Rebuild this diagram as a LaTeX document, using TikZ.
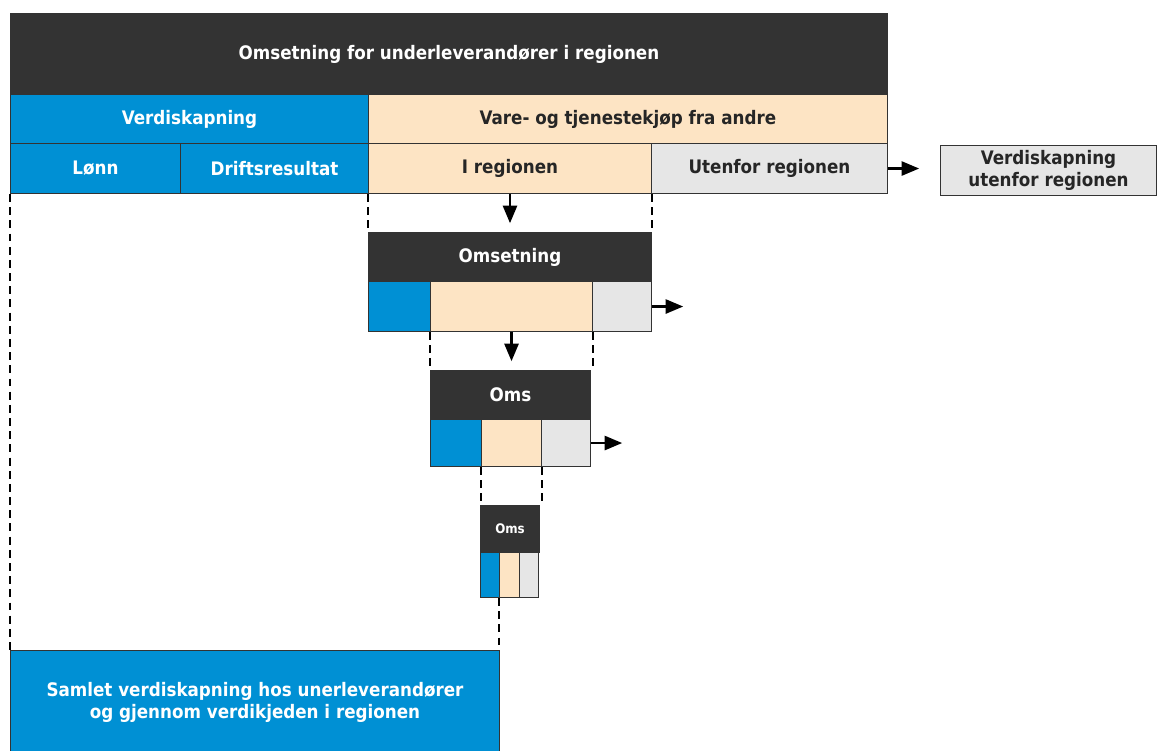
\documentclass[tikz,border=0pt]{standalone}
\usepackage{fontspec}
\setmainfont{DejaVu Sans Condensed}
\usepackage{tikz}
\usetikzlibrary{arrows}
\definecolor{Mork}{HTML}{333333}
\definecolor{Blaa}{HTML}{0090D4}
\definecolor{Fersken}{HTML}{FDE4C4}
\definecolor{Graa}{HTML}{E6E6E6}
\tikzset{
  celle/.style={draw=black!80, line width=0.6pt, inner sep=0pt, anchor=north west,
    align=center, font=\bfseries\fontsize{10.6}{12.2}\selectfont},
  mork/.style={celle, fill=Mork, text=white},
  blaa/.style={celle, fill=Blaa, text=white},
  fersken/.style={celle, fill=Fersken, text=black!85},
  graa/.style={celle, fill=Graa, text=black!85},
  stiplet/.style={line width=1.4pt, dash pattern=on 4.5pt off 3pt},
  pil/.style={line width=1.3pt, -triangle 45},
}

\begin{document}
\begin{tikzpicture}[x=0.02cm, y=-0.02cm]
      \useasboundingbox (0,0) rectangle (1157,751);
      % hovedtabell
      \node[mork, minimum width=17.54cm, minimum height=1.62cm] (top) at (10,13)
      {Omsetning for underleverandører i regionen};
      \node[blaa, minimum width=7.16cm, minimum height=0.98cm] (verdi) at (10,94) {Verdiskapning};
      \node[fersken, minimum width=10.38cm, minimum height=0.98cm] (vare) at (368,94)
      {Vare- og tjenestekjøp fra andre};
      \node[blaa, minimum width=3.40cm, minimum height=1cm] (lonn) at (10,143) {Lønn};
      \node[blaa, minimum width=3.76cm, minimum height=1cm] (drift) at (180,143) {Driftsresultat};
      \node[fersken, minimum width=5.66cm, minimum height=1cm] (iregion) at (368,143) {I regionen};
      \node[graa, minimum width=4.72cm, minimum height=1cm] (utenfor) at (651,143) {Utenfor regionen};
      \node[graa, minimum width=4.32cm, minimum height=1cm] (vuten) at (940,145)
      {Verdiskapning\\utenfor regionen};

      % andre ledd
      \node[mork, minimum width=5.66cm, minimum height=0.98cm] (oms1) at (368,232) {Omsetning};
      \node[blaa, minimum width=1.24cm, minimum height=1cm] (b1) at (368,281) {};
      \node[fersken, minimum width=3.24cm, minimum height=1cm] (p1) at (430,281) {};
      \node[graa, minimum width=1.18cm, minimum height=1cm] (g1) at (592,281) {};

      % tredje ledd
      \node[mork, minimum width=3.20cm, minimum height=0.98cm] (oms2) at (430,370) {Oms};
      \node[blaa, minimum width=1.02cm, minimum height=0.94cm] (b2) at (430,419) {};
      \node[fersken, minimum width=1.20cm, minimum height=0.94cm] (p2) at (481,419) {};
      \node[graa, minimum width=0.98cm, minimum height=0.94cm] (g2) at (541,419) {};

      % fjerde ledd
      \node[mork, minimum width=1.18cm, minimum height=0.94cm,
        font=\bfseries\fontsize{7.5}{9}\selectfont] (oms3) at (480,505) {Oms};
      \node[blaa, minimum width=0.38cm, minimum height=0.90cm] (b3) at (480,552) {};
      \node[fersken, minimum width=0.40cm, minimum height=0.90cm] (p3) at (499,552) {};
      \node[graa, minimum width=0.38cm, minimum height=0.90cm] (g3) at (519,552) {};

      \node[blaa, minimum width=9.78cm, minimum height=2.08cm] (samlet) at (10,650)
      {Samlet verdiskapning hos unerleverandører\\og gjennom verdikjeden i regionen};

      % stiplede linjer
      \draw[stiplet] (lonn.south west) -- (samlet.north west);
      \draw[stiplet] (iregion.south west) -- (oms1.north west);
      \draw[stiplet] (iregion.south east) -- (oms1.north east);
      \draw[stiplet] (p1.south west) -- (oms2.north west);
      \draw[stiplet] (p1.south east) -- (p1.south east |- oms2.north);
      \draw[stiplet] (p2.south west) -- (p2.south west |- oms3.north);
      \draw[stiplet] (p2.south east) -- (p2.south east |- oms3.north);
      \draw[stiplet] (p3.south west) -- (p3.south west |- samlet.north);

      % piler
      \draw[pil] (utenfor.east) -- ++(31,0);
      \draw[pil] (iregion.south) -- ++(0,29);
      \draw[pil] (g1.east) -- ++(31,0);
      \draw[pil] (p1.south) -- ++(0,29);
      \draw[pil] (g2.east) -- ++(31,0);
    \end{tikzpicture}
\end{document}
